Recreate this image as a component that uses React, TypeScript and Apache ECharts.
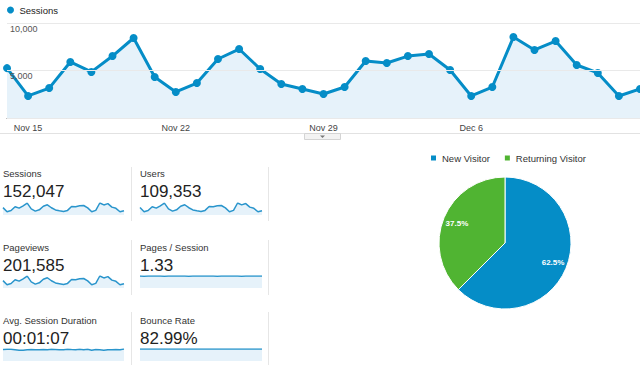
import React, { useEffect, useRef } from 'react';
import * as echarts from 'echarts';

const dates = [
  'Nov 14', 'Nov 15', 'Nov 16', 'Nov 17', 'Nov 18', 'Nov 19', 'Nov 20', 'Nov 21', 'Nov 22', 'Nov 23',
  'Nov 24', 'Nov 25', 'Nov 26', 'Nov 27', 'Nov 28', 'Nov 29', 'Nov 30', 'Dec 1', 'Dec 2', 'Dec 3',
  'Dec 4', 'Dec 5', 'Dec 6', 'Dec 7', 'Dec 8', 'Dec 9', 'Dec 10', 'Dec 11', 'Dec 12', 'Dec 13', 'Dec 14',
];
const xTickLabels = ['Nov 15', 'Nov 22', 'Nov 29', 'Dec 6'];
const yMax = 10000;
const yInterval = 5000;

const sessions = [5250, 2320, 3150, 5900, 4850, 6520, 8420, 4320, 2740, 3680, 6210, 7260, 5160, 3580, 3050, 2530, 3260, 6000, 5790, 6520, 6740, 5050, 2320, 3260, 8520, 7160, 8100, 5580, 4740, 2320, 3050];
const users = [3790, 1680, 2270, 4250, 3490, 4700, 6060, 3110, 1980, 2650, 4470, 5230, 3720, 2580, 2200, 1830, 2350, 4320, 4170, 4700, 4850, 3640, 1680, 2350, 6130, 5160, 5830, 4020, 3410, 1680, 2200];
const pageviews = [6980, 3080, 4190, 7850, 6450, 8670, 11200, 5750, 3640, 4890, 8260, 9660, 6860, 4760, 4060, 3360, 4340, 7980, 7700, 8670, 8960, 6720, 3080, 4340, 11330, 9520, 10770, 7420, 6300, 3080, 4060];
const pagesPerSession = [1.33, 1.32, 1.33, 1.33, 1.34, 1.33, 1.32, 1.33, 1.33, 1.34, 1.33, 1.33, 1.32, 1.33, 1.33, 1.34, 1.33, 1.33, 1.33, 1.32, 1.33, 1.33, 1.34, 1.33, 1.33, 1.32, 1.33, 1.33, 1.34, 1.33, 1.33];
const avgDuration = [68, 70, 69, 66, 63, 64, 66, 68, 67, 66, 68, 67, 69, 68, 66, 67, 70, 68, 67, 69, 66, 70, 64, 68, 66, 63, 67, 66, 68, 67, 71];
const bounceRate = [83.0, 83.2, 82.9, 82.8, 83.1, 83.0, 82.7, 83.1, 83.3, 83.0, 82.9, 82.8, 83.0, 83.1, 83.2, 83.3, 83.0, 82.8, 82.9, 82.8, 82.7, 83.0, 83.4, 83.1, 82.6, 82.8, 82.7, 83.0, 83.1, 83.3, 83.2];

const kpiLabels = ['Sessions', 'Users', 'Pageviews', 'Pages / Session', 'Avg. Session Duration', 'Bounce Rate'];
const kpiValues = ['152,047', '109,353', '201,585', '1.33', '00:01:07', '82.99%'];

const pieNames = ['New Visitor', 'Returning Visitor'];
const pieValues = [62.5, 37.5];

export default function App() {
  const ref = useRef<HTMLDivElement>(null);

  useEffect(() => {
    const chart = echarts.init(ref.current as HTMLDivElement, null, { renderer: 'svg' });
    const font = 'Liberation Sans, Arial, Helvetica, sans-serif';
    const blue = '#058DC7';
    const green = '#50B432';
    const fill = '#E6F2FA';

    const sparkData = [sessions, users, pageviews, pagesPerSession, avgDuration, bounceRate];
    const colX = [3, 140];
    const colW = [121, 122];
    const labelY = [173, 247, 320];
    const valueY = [191, 265, 338];
    const sparkTop = [203, 276, 349];

    const grids: any[] = [{ left: 7, right: 0, top: 23, height: 95 }];
    const xAxes: any[] = [{
      type: 'category', data: dates, gridIndex: 0, boundaryGap: false,
      axisLine: { lineStyle: { color: '#666', width: 1 } },
      axisTick: { show: false },
      axisLabel: {
        interval: (i: number) => xTickLabels.includes(dates[i]),
        color: '#444', fontSize: 9, fontFamily: font, margin: 5,
      },
    }];
    const yAxes: any[] = [{
      type: 'value', gridIndex: 0, min: 0, max: yMax, interval: yInterval, z: 10,
      axisLine: { show: false }, axisTick: { show: false },
      splitLine: { lineStyle: { color: '#e9e9e9' } },
      axisLabel: {
        inside: true, showMinLabel: false, align: 'left', verticalAlign: 'top',
        padding: [1, 0, 0, 0], margin: 3, color: '#555', fontSize: 9, fontFamily: font,
        formatter: (v: number) => v.toLocaleString('en-US'),
      },
    }];
    const series: any[] = [{
      name: 'Sessions', type: 'line', xAxisIndex: 0, yAxisIndex: 0, data: sessions,
      symbol: 'circle', symbolSize: 8, showSymbol: true,
      itemStyle: { color: blue },
      lineStyle: { color: blue, width: 3 },
      areaStyle: { color: fill, opacity: 1 },
      z: 3,
    }];
    const graphics: any[] = [];

    for (let k = 0; k < 6; k++) {
      const col = k % 2;
      const row = Math.floor(k / 2);
      grids.push({ left: colX[col], top: sparkTop[row], width: colW[col], height: 12 });
      xAxes.push({ type: 'category', data: dates, gridIndex: k + 1, boundaryGap: false, show: false });
      yAxes.push({ type: 'value', gridIndex: k + 1, min: 0, max: (v: any) => v.max, show: false, splitLine: { show: false } });
      series.push({
        name: 'spark-' + kpiLabels[k], type: 'line', xAxisIndex: k + 1, yAxisIndex: k + 1,
        data: sparkData[k], symbol: 'none', showSymbol: false,
        lineStyle: { color: '#2a95cc', width: 1.5 },
        areaStyle: { color: fill, opacity: 1 },
      });
      graphics.push({
        type: 'text', x: colX[col], y: labelY[row],
        style: { text: kpiLabels[k], fill: '#333', font: `9.5px ${font}`, textVerticalAlign: 'middle', verticalAlign: 'middle', textAlign: 'left', align: 'left' },
      });
      graphics.push({
        type: 'text', x: colX[col], y: valueY[row],
        style: { text: kpiValues[k], fill: '#222', font: `17px ${font}`, textVerticalAlign: 'middle', verticalAlign: 'middle', textAlign: 'left', align: 'left' },
      });
    }

    const sepRows = [[167, 221], [240, 295], [312, 365]];
    sepRows.forEach(([a, b]) => {
      [131, 268].forEach((x) => {
        graphics.push({ type: 'line', shape: { x1: x + 0.5, y1: a, x2: x + 0.5, y2: b }, style: { stroke: '#e6e6e6', lineWidth: 1 } });
      });
    });
    graphics.push({ type: 'line', shape: { x1: 0, y1: 133.5, x2: 640, y2: 133.5 }, style: { stroke: '#e2e2e2', lineWidth: 1 } });
    graphics.push({ type: 'rect', shape: { x: 304.5, y: 133.5, width: 36, height: 6 }, style: { fill: '#f3f3f3', stroke: '#d4d4d4', lineWidth: 1 } });
    graphics.push({ type: 'polygon', shape: { points: [[320, 135.5], [325, 135.5], [322.5, 138]] }, style: { fill: '#777' } });

    series.push({
      name: 'visitors', type: 'pie', center: [505, 243], radius: 66, startAngle: 90, clockwise: true,
      data: pieNames.map((n, i) => ({ name: n, value: pieValues[i], itemStyle: { color: i === 0 ? blue : green } })),
      itemStyle: { borderColor: '#fff', borderWidth: 1 },
      label: { show: false }, labelLine: { show: false },
      emphasis: { disabled: true },
    });
    series.push({
      name: 'visitor-labels', type: 'pie', center: [505, 243], radius: [32, 66], startAngle: 90, clockwise: true,
      silent: true,
      data: pieNames.map((n, i) => ({ name: 'lbl-' + n, value: pieValues[i] })),
      itemStyle: { color: 'rgba(0,0,0,0)', borderWidth: 0 },
      label: {
        show: true, position: 'inside', color: '#fff', fontSize: 8, fontWeight: 'bold', fontFamily: font,
        formatter: (p: any) => p.value + '%',
      },
      labelLine: { show: false },
      emphasis: { disabled: true },
    });

    chart.setOption({
      animation: false,
      backgroundColor: '#fff',
      textStyle: { fontFamily: font },
      legend: [
        {
          data: ['Sessions'], left: 2, top: 0, icon: 'circle', itemWidth: 8, itemHeight: 7,
          textStyle: { color: '#222', fontSize: 9.5, fontFamily: font }, selectedMode: false,
        },
        {
          data: pieNames, left: 424, top: 148, icon: 'rect', itemWidth: 7, itemHeight: 7, itemGap: 13,
          textStyle: { color: '#333', fontSize: 9.5, fontFamily: font }, selectedMode: false,
        },
      ],
      grid: grids,
      xAxis: xAxes,
      yAxis: yAxes,
      series,
      graphic: graphics,
    });

    return () => chart.dispose();
  }, []);

  return (
    <div
      ref={ref}
      style={{ position: 'absolute', left: 0, top: 0, width: 640, height: 365, background: '#fff' }}
    />
  );
}
